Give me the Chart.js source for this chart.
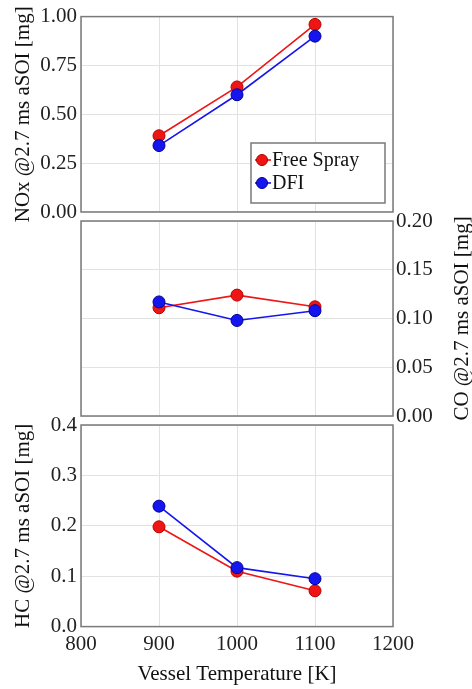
<!DOCTYPE html>
<html><head><meta charset="utf-8">
<script src="https://cdn.jsdelivr.net/npm/chart.js@4.4.0/dist/chart.umd.min.js"></script>
<style>
html,body{margin:0;padding:0;background:#fff;}
#wrap{position:relative;width:472px;height:689px;}
#wrap canvas{position:absolute;left:0;top:0;}
</style></head><body>
<div id="wrap">
<canvas id="c1" width="472" height="689"></canvas>
<canvas id="c2" width="472" height="689"></canvas>
<canvas id="c3" width="472" height="689"></canvas>
</div>
<script>
const temperatures = [900, 1000, 1100];
const seriesNames = ['Free Spray', 'DFI'];
const noxFreeSpray = [0.39, 0.64, 0.96];
const noxDFI = [0.34, 0.60, 0.90];
const coFreeSpray = [0.111, 0.124, 0.112];
const coDFI = [0.117, 0.098, 0.108];
const hcFreeSpray = [0.198, 0.110, 0.071];
const hcDFI = [0.239, 0.117, 0.095];
const xTicks = [800, 900, 1000, 1100, 1200];
const noxTicks = [0, 0.25, 0.5, 0.75, 1.0];
const coTicks = [0, 0.05, 0.1, 0.15, 0.2];
const hcTicks = [0, 0.1, 0.2, 0.3, 0.4];
const noxTitle = 'NOx @2.7 ms aSOI [mg]';
const coTitle = 'CO @2.7 ms aSOI [mg]';
const hcTitle = 'HC @2.7 ms aSOI [mg]';
const xTitle = 'Vessel Temperature [K]';

const FONT = '"Liberation Serif", "Times New Roman", serif';
const RED = '#ee1515', RED_B = '#b80000', BLUE = '#1515ee', BLUE_B = '#00009a';
const GRID = '#e2e2e2', FRAME = '#7a7a7a', TXT = '#222';

function pts(xs, ys){ return xs.map((x,i)=>({x:x, y:ys[i]})); }
function ds(label, xs, ys, color, border, order){
  return {label, data: pts(xs, ys), borderColor: color, backgroundColor: color,
    pointBackgroundColor: color, pointBorderColor: border, pointBorderWidth: 1,
    pointRadius: 6, borderWidth: 1.6, order, tension: 0};
}
function fixedTicks(arr){ return s => { s.ticks = arr.map(v=>({value:v})); }; }

const framePlugin = {
  id: 'frame',
  beforeDatasetsDraw(chart){
    const {ctx, chartArea:a} = chart;
    ctx.save(); ctx.strokeStyle = FRAME; ctx.lineWidth = 1.5;
    ctx.strokeRect(a.left, a.top, a.right - a.left, a.bottom - a.top);
    ctx.restore();
  }
};

function xScale(showLabels){
  return {
    type: 'linear', min: 800, max: 1200,
    afterBuildTicks: fixedTicks(xTicks),
    grid: {color: GRID, lineWidth: 1, drawTicks: false},
    border: {display: false},
    ticks: {display: showLabels, color: TXT, font: {family: FONT, size: 21}, padding: 5, maxRotation: 0, callback: v => String(v)},
    title: {display: showLabels, text: xTitle, color: '#111', font: {family: FONT, size: 21}, padding: {top: 0, bottom: 2}},
    afterFit: s => { if (!showLabels) s.height = 0; }
  };
}
function yScale(min, max, arr, dec, pos, title){
  return {
    type: 'linear', position: pos, min, max,
    afterBuildTicks: fixedTicks(arr),
    grid: {color: GRID, lineWidth: 1, drawTicks: false},
    border: {display: false},
    ticks: {color: TXT, font: {family: FONT, size: 21}, padding: pos === 'left' ? 4 : 3, callback: v => Number(v).toFixed(dec)},
    title: {display: !!title, text: title || '', color: '#111', font: {family: FONT, size: 21}, padding: {top: 11, bottom: 0}},
    afterFit: s => { s.width = pos === 'left' ? 81 : 79; }
  };
}
const common = {responsive: false, animation: false, devicePixelRatio: 1,
  plugins: {legend: {display: false}, tooltip: {enabled: false}}};

const legendPlugin = {
  id: 'customLegend',
  afterDraw(chart){
    const {ctx, chartArea:a} = chart;
    const bx = a.right - 142, by = a.bottom - 69, bw = 134, bh = 60;
    ctx.save();
    ctx.fillStyle = '#fff'; ctx.fillRect(bx, by, bw, bh);
    ctx.strokeStyle = FRAME; ctx.lineWidth = 1.5; ctx.strokeRect(bx, by, bw, bh);
    const items = [[seriesNames[0], RED, RED_B], [seriesNames[1], BLUE, BLUE_B]];
    items.forEach((it, i) => {
      const cy = by + 17 + i * 23;
      ctx.strokeStyle = it[1]; ctx.lineWidth = 1.6;
      ctx.beginPath(); ctx.moveTo(bx + 4, cy); ctx.lineTo(bx + 20, cy); ctx.stroke();
      ctx.beginPath(); ctx.arc(bx + 11, cy, 5.5, 0, Math.PI * 2);
      ctx.fillStyle = it[1]; ctx.fill(); ctx.strokeStyle = it[2]; ctx.lineWidth = 1; ctx.stroke();
      ctx.fillStyle = '#111'; ctx.font = '20px ' + FONT; ctx.textBaseline = 'middle'; ctx.textAlign = 'left';
      ctx.fillText(it[0], bx + 21, cy + 1);
    });
    ctx.restore();
  }
};

const coTitlePlugin = {
  id: 'coTitle',
  afterDraw(chart){
    const {ctx, chartArea:a} = chart;
    ctx.save();
    ctx.translate(462, (a.top + a.bottom) / 2);
    ctx.rotate(-Math.PI / 2);
    ctx.fillStyle = '#111'; ctx.font = '21px ' + FONT;
    ctx.textAlign = 'center'; ctx.textBaseline = 'middle';
    ctx.fillText(coTitle, 0, 0);
    ctx.restore();
  }
};

new Chart(document.getElementById('c1'), {
  type: 'line',
  data: {datasets: [ds(seriesNames[0], temperatures, noxFreeSpray, RED, RED_B, 1), ds(seriesNames[1], temperatures, noxDFI, BLUE, BLUE_B, 0)]},
  options: Object.assign({}, common, {
    layout: {padding: {left: 0, right: 79, top: 16, bottom: 689 - 212}},
    scales: {x: xScale(false), y: yScale(0, 1, noxTicks, 2, 'left', noxTitle)}
  }),
  plugins: [framePlugin, legendPlugin]
});

new Chart(document.getElementById('c2'), {
  type: 'line',
  data: {datasets: [ds(seriesNames[0], temperatures, coFreeSpray, RED, RED_B, 1), ds(seriesNames[1], temperatures, coDFI, BLUE, BLUE_B, 0)]},
  options: Object.assign({}, common, {
    layout: {padding: {left: 81, right: 0, top: 221, bottom: 689 - 416}},
    scales: {x: xScale(false), y: yScale(0, 0.2, coTicks, 2, 'right', null)}
  }),
  plugins: [framePlugin, coTitlePlugin]
});

new Chart(document.getElementById('c3'), {
  type: 'line',
  data: {datasets: [ds(seriesNames[0], temperatures, hcFreeSpray, RED, RED_B, 1), ds(seriesNames[1], temperatures, hcDFI, BLUE, BLUE_B, 0)]},
  options: Object.assign({}, common, {
    layout: {padding: {left: 0, right: 79, top: 425, bottom: 0}},
    scales: {x: xScale(true), y: yScale(0, 0.4, hcTicks, 1, 'left', hcTitle)}
  }),
  plugins: [framePlugin]
});
</script>
</body></html>
